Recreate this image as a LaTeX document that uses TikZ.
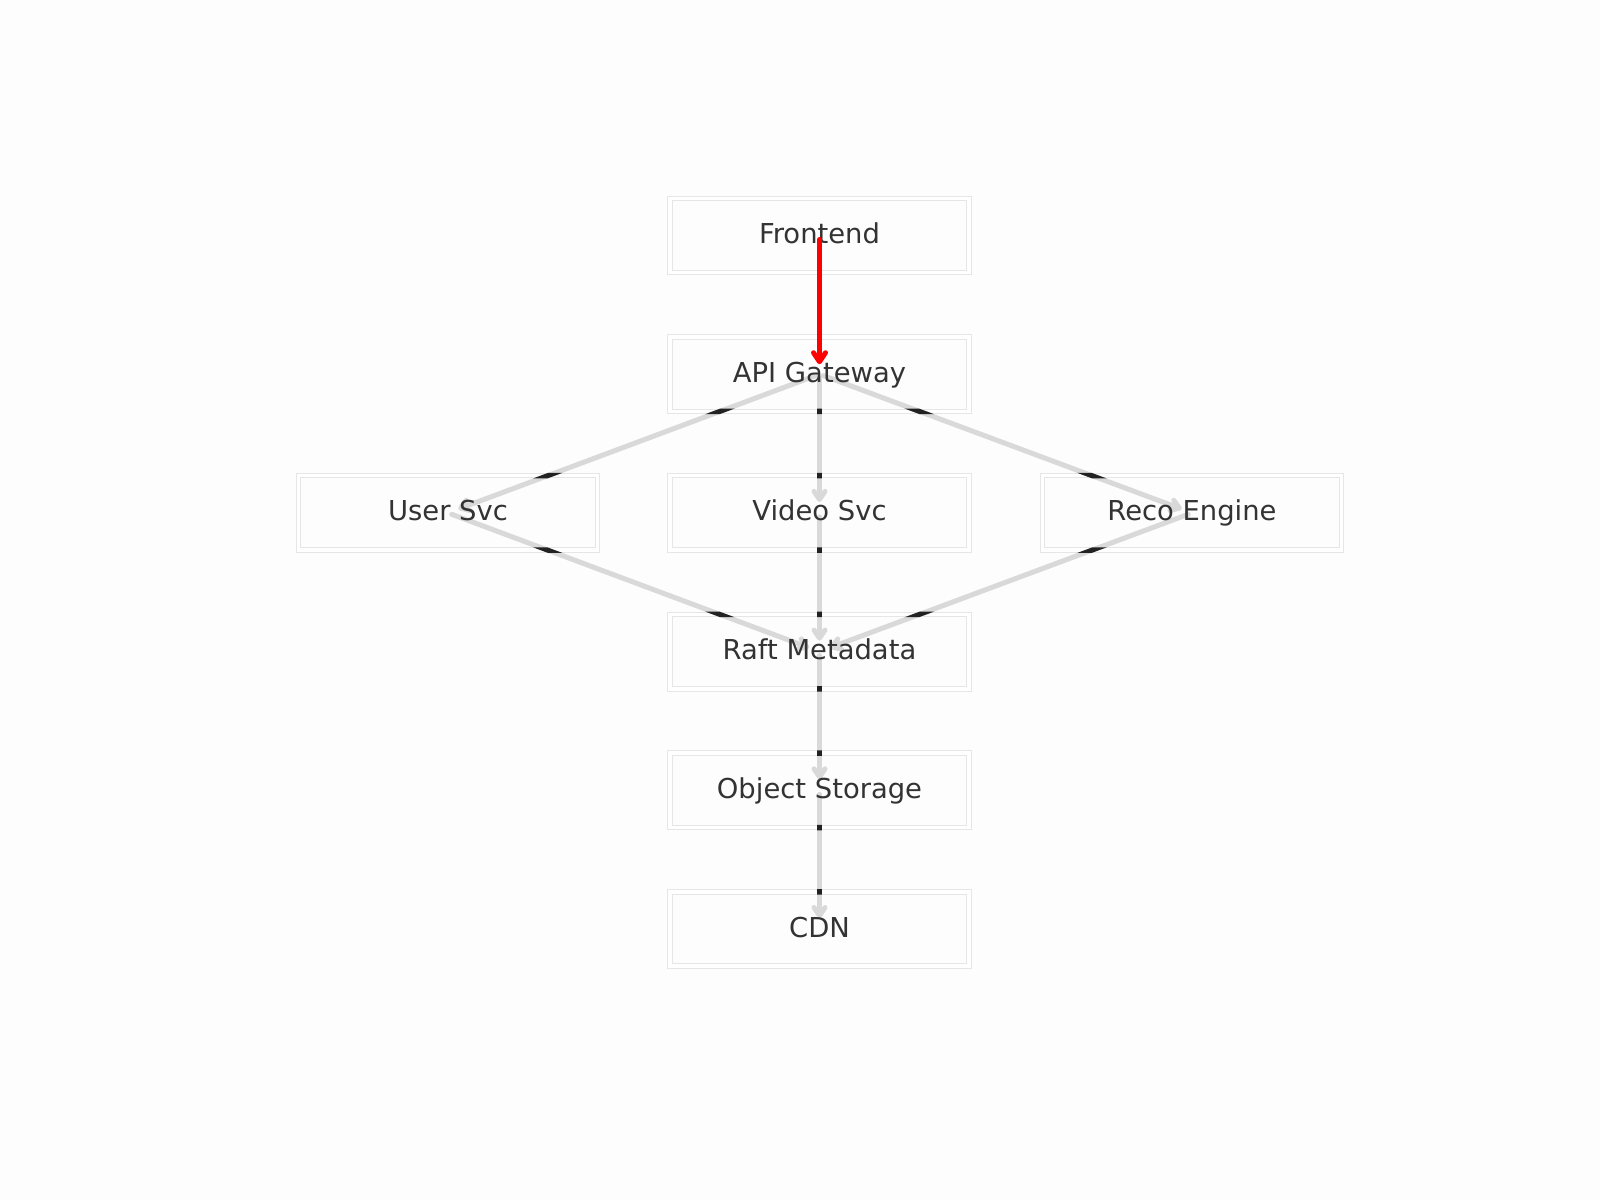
\documentclass[tikz,border=0pt]{standalone}
\usepackage{fontspec}
\setmainfont{DejaVu Sans}
\usetikzlibrary{arrows.meta}
\definecolor{bg}{RGB}{253,253,253}
\definecolor{boxline}{RGB}{230,230,230}
\definecolor{edgegray}{RGB}{217,217,217}
\definecolor{labeltext}{RGB}{51,51,51}
\definecolor{seamdark}{RGB}{34,34,34}

\pgfdeclarelayer{canvas}
\pgfdeclarelayer{frames}
\pgfdeclarelayer{links}
\pgfsetlayers{canvas,frames,links,main}

\begin{document}
\begin{tikzpicture}[x=1pt,y=-1pt,
  svcbox/.style={rectangle, minimum width=298.5pt, minimum height=74pt,
    inner sep=0pt, text=labeltext, font=\fontsize{27.4}{33}\selectfont,
    text height=20.5pt, text depth=4.5pt},
  frame/.style={draw=boxline, line width=1pt, double=white,
    double distance=3.5pt},
  flow/.style={draw=edgegray, line width=5pt, line cap=round,
    -{Straight Barb[length=8pt,width=11pt,round]},
    shorten <=4pt, shorten >=11pt},
  hot/.style={draw=red, line width=5pt, line cap=round,
    -{Straight Barb[length=9pt,width=12pt,round]},
    shorten <=4pt, shorten >=10pt},
  seam/.style={draw=seamdark, line width=5pt}
]
% canvas
\begin{pgfonlayer}{canvas}
  \fill[bg] (0,0) rectangle (1600,1200);
\end{pgfonlayer}
\useasboundingbox (0,0) rectangle (1600,1200);

% service labels
\node[svcbox] (frontend) at (819.5,235.5) {Frontend};
\node[svcbox] (api)      at (819.5,374.2) {API Gateway};
\node[svcbox] (user)     at (448,512.9)   {User Svc};
\node[svcbox] (video)    at (819.5,512.9) {Video Svc};
\node[svcbox] (reco)     at (1192,512.9)  {Reco Engine};
\node[svcbox] (raft)     at (819.5,651.6) {Raft Metadata};
\node[svcbox] (object)   at (819.5,790.3) {Object Storage};
\node[svcbox] (cdn)      at (819.5,929.0) {CDN};

% double-ruled frames behind the connectors
\begin{pgfonlayer}{frames}
  \foreach \n in {frontend,api,user,video,reco,raft,object,cdn}
    \draw[frame] (\n.south west) rectangle (\n.north east);
\end{pgfonlayer}

\begin{pgfonlayer}{links}
  % connectors
  \foreach \a/\b in {api/user, api/video, api/reco, user/raft, video/raft,
                     reco/raft, raft/object, object/cdn}
    \draw[flow] (\a.center) -- (\b.center);

  % dark seams where connectors cross the double borders
  \begin{scope}
    \path[clip] foreach \n in {api,user,video,reco,raft,object,cdn} {
      ([yshift=2.75pt]\n.north west) rectangle ([yshift=-2.75pt]\n.north east)
      ([yshift=2.75pt]\n.south west) rectangle ([yshift=-2.75pt]\n.south east)
    };
    \foreach \a/\b in {api/user, api/video, api/reco, user/raft, video/raft,
                       reco/raft, raft/object, object/cdn}
      \draw[seam] (\a.center) -- (\b.center);
  \end{scope}
\end{pgfonlayer}

% highlighted request path
\draw[hot] (frontend.center) -- (api.center);
\end{tikzpicture}
\end{document}
